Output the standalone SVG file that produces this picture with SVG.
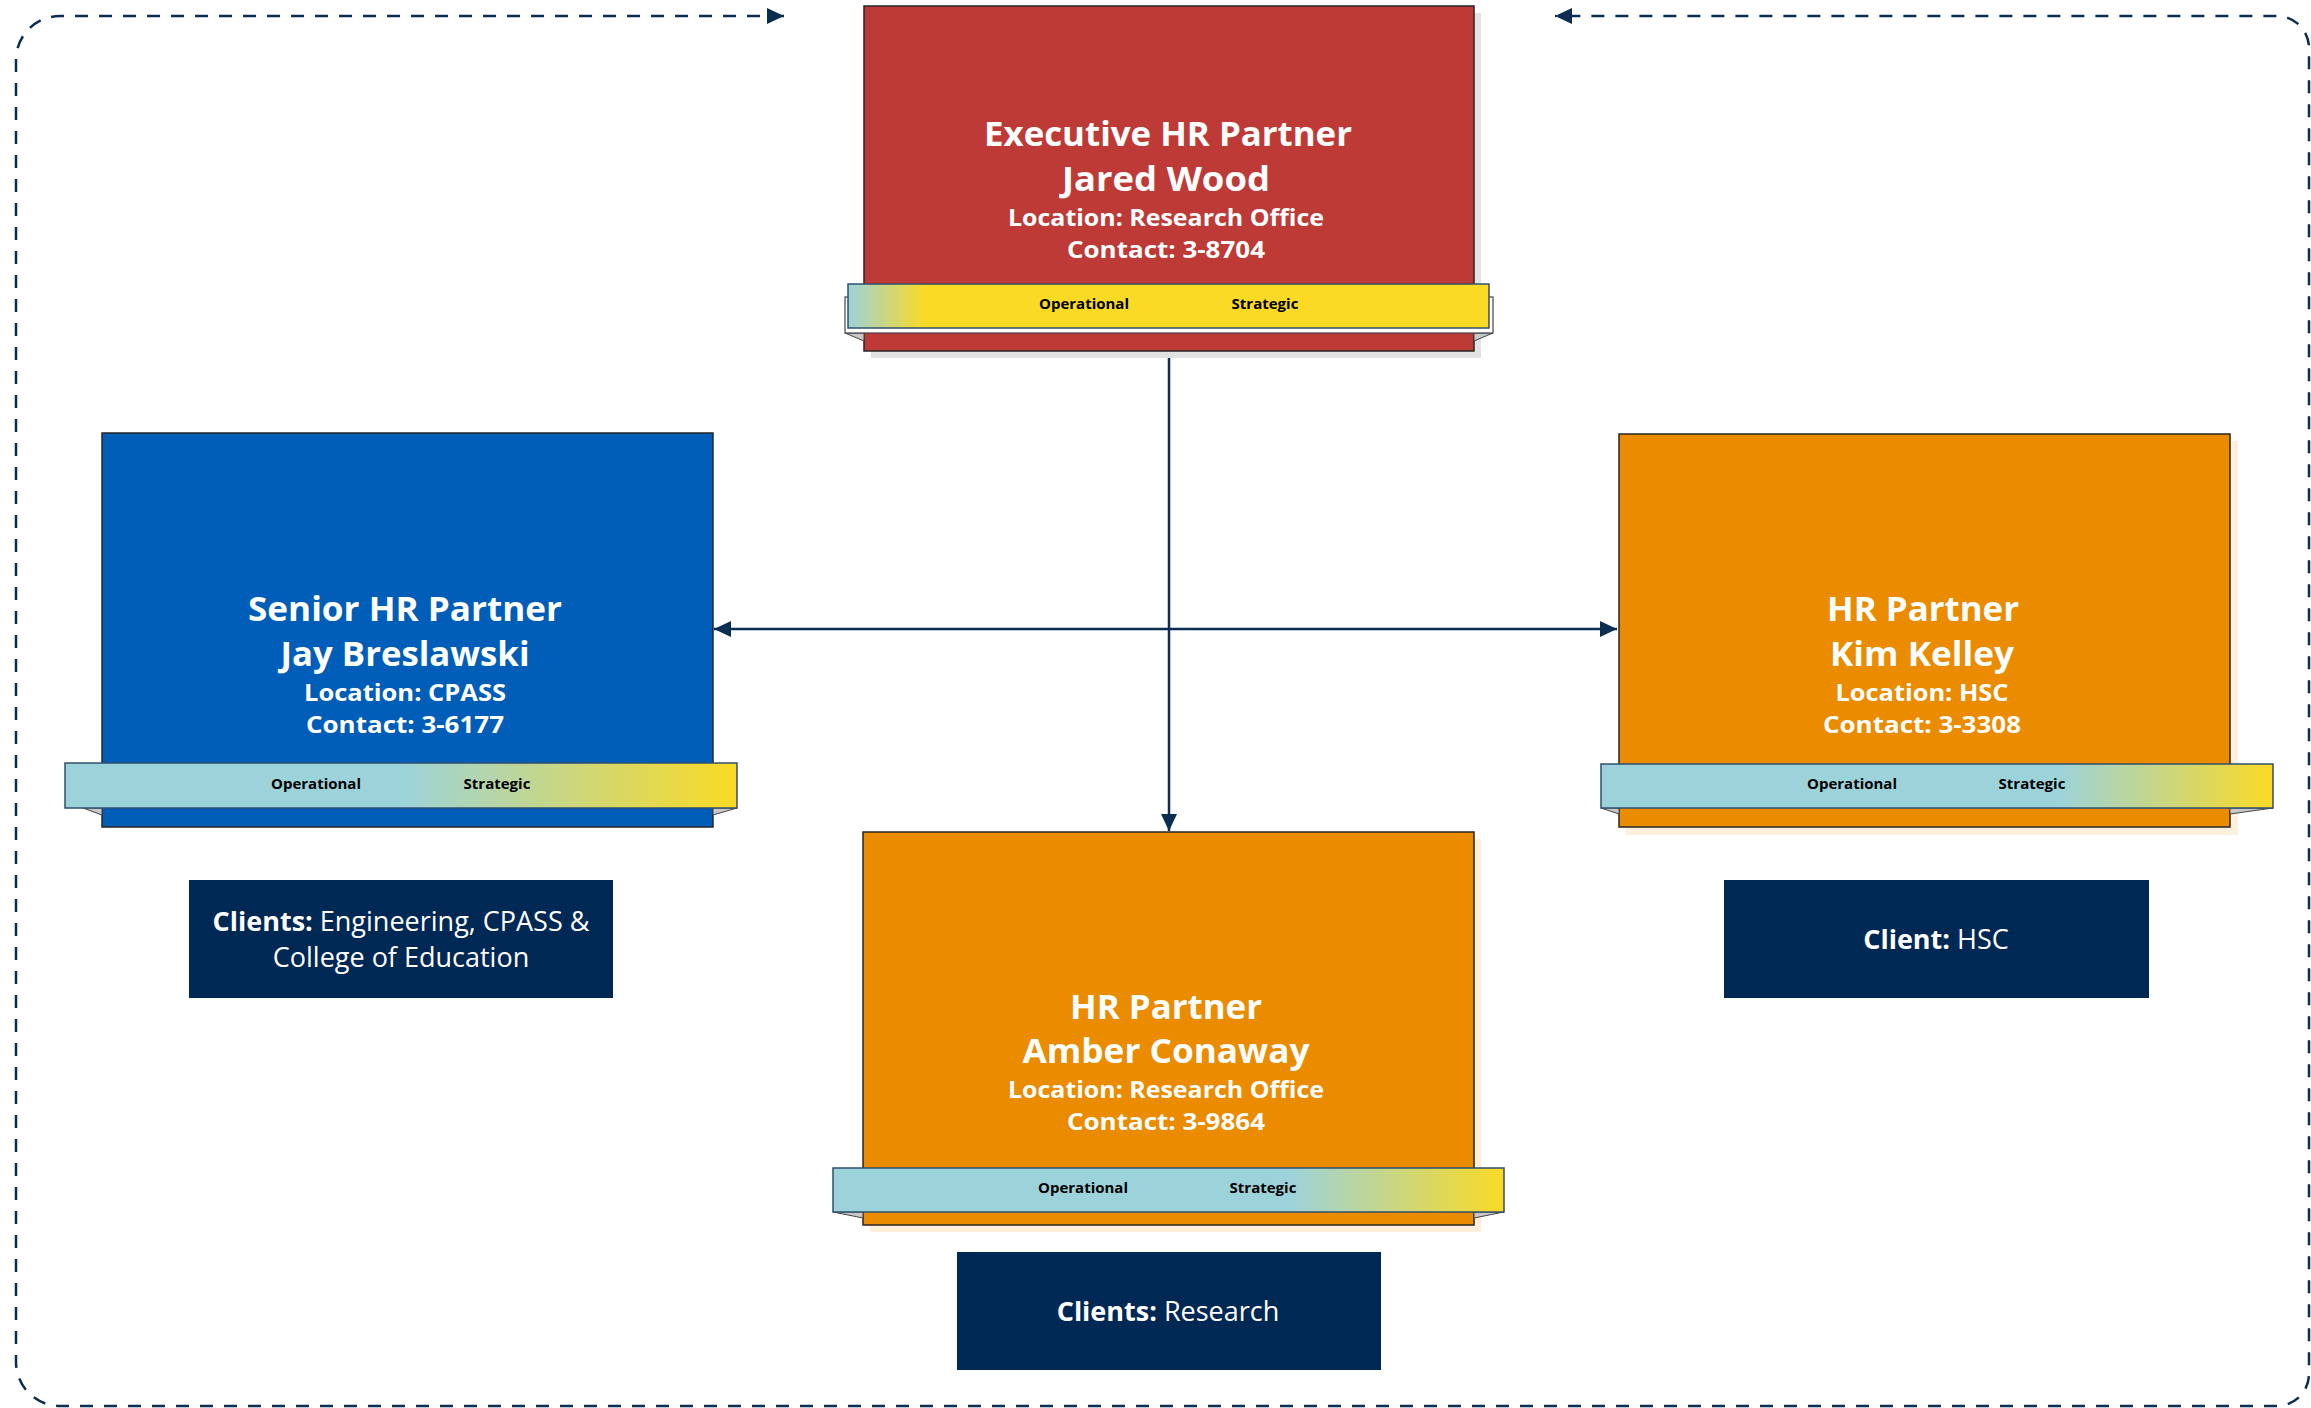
<svg xmlns="http://www.w3.org/2000/svg" width="2311" height="1408" viewBox="0 0 2311 1408">
<defs>
<style>
.box{stroke:#262626;stroke-width:1.5}
.red{fill:#BE3A36}.blue{fill:#005EB8}.orange{fill:#EA8B00}
.shadow-g{fill:#e2e2e2}.shadow-o{fill:#fcefdc}
.t1{font-family:"Open Sans","Liberation Sans",sans-serif;font-weight:700;font-size:34px;fill:#fff;text-anchor:middle}
.t2{font-family:"Open Sans","Liberation Sans",sans-serif;font-weight:700;font-size:24px;fill:#fff;text-anchor:middle}
.bl{font-family:"Open Sans","Liberation Sans",sans-serif;font-weight:700;font-size:15px;fill:#000;text-anchor:middle}
.band{stroke:#2F4F6F;stroke-width:1.5}
.fold{fill:#c8c8c8;stroke:#444;stroke-width:1}
.client{fill:#002855}
.ct{font-family:"Open Sans","Liberation Sans",sans-serif;font-size:27px;fill:#fff;text-anchor:middle}
.b{font-weight:700}
.conn{fill:none;stroke:#0B2D52;stroke-width:2.5}
.dash{fill:none;stroke:#0B2D52;stroke-width:2.5;stroke-dasharray:13 11}
</style>
<marker id="arr" markerUnits="userSpaceOnUse" markerWidth="17" markerHeight="16" refX="17" refY="8" orient="auto-start-reverse">
<path d="M0,0 L17,8 L0,16 z" fill="#0B2D52"/>
</marker>
<linearGradient id="gRed" x1="0" y1="0" x2="1" y2="0">
<stop offset="0" stop-color="#9CD3DB"/><stop offset="0.12" stop-color="#FADA24"/><stop offset="1" stop-color="#FADA24"/>
</linearGradient>
<linearGradient id="gBlue" x1="0" y1="0" x2="1" y2="0">
<stop offset="0" stop-color="#9CD3DB"/><stop offset="0.5" stop-color="#9CD3DB"/><stop offset="1" stop-color="#FADA24"/>
</linearGradient>
<linearGradient id="gOr" x1="0" y1="0" x2="1" y2="0">
<stop offset="0" stop-color="#9CD3DB"/><stop offset="0.68" stop-color="#9CD3DB"/><stop offset="1" stop-color="#FADA24"/>
</linearGradient>
</defs>
<rect width="2311" height="1408" fill="#fff"/>

<g id="connectors">
<path class="dash" d="M784 16 H60 A44 44 0 0 0 16 60 V1362 A44 44 0 0 0 60 1406 H2277 A32 32 0 0 0 2309 1374 V48 A32 32 0 0 0 2277 16 H1555" marker-start="url(#arr)" marker-end="url(#arr)"/>
<path class="conn" d="M1169 351 V831" marker-end="url(#arr)"/>
<path class="conn" d="M714 629 H1617" marker-start="url(#arr)" marker-end="url(#arr)"/>
</g>

<g id="node-exec">
<rect class="shadow-g" x="871" y="13" width="610" height="345"/>
<rect class="box red" x="864" y="6" width="610" height="345"/>
<polygon class="fold" points="845,333 864,333 864,341"/>
<polygon class="fold" points="1493,333 1474,333 1474,341"/>
<rect x="845" y="297" width="648" height="36" fill="#fff" stroke="#444" stroke-width="1.2"/>
<rect class="band" x="848" y="284" width="641" height="44" fill="url(#gRed)"/>
<text class="t1" x="1168" y="146" textLength="368" lengthAdjust="spacingAndGlyphs">Executive HR Partner</text>
<text class="t1" x="1166" y="191" textLength="208" lengthAdjust="spacingAndGlyphs">Jared Wood</text>
<text class="t2" x="1166" y="226" textLength="316" lengthAdjust="spacingAndGlyphs">Location: Research Office</text>
<text class="t2" x="1166" y="258" textLength="198" lengthAdjust="spacingAndGlyphs">Contact: 3-8704</text>
<text class="bl" x="1084" y="309">Operational</text>
<text class="bl" x="1265" y="309">Strategic</text>
</g>

<g id="node-senior">
<rect class="box blue" x="102" y="433" width="611" height="394"/>
<polygon class="fold" points="83,808 102,808 102,815"/>
<polygon class="fold" points="737,808 713,808 713,815"/>
<rect class="band" x="65" y="763" width="672" height="45" fill="url(#gBlue)"/>
<text class="t1" x="405" y="621" textLength="314" lengthAdjust="spacingAndGlyphs">Senior HR Partner</text>
<text class="t1" x="405" y="666" textLength="249" lengthAdjust="spacingAndGlyphs">Jay Breslawski</text>
<text class="t2" x="405" y="701" textLength="202" lengthAdjust="spacingAndGlyphs">Location: CPASS</text>
<text class="t2" x="405" y="733" textLength="198" lengthAdjust="spacingAndGlyphs">Contact: 3-6177</text>
<text class="bl" x="316" y="789">Operational</text>
<text class="bl" x="497" y="789">Strategic</text>
</g>

<g id="node-kim">
<rect class="shadow-o" x="1626" y="441" width="612" height="394"/>
<rect class="box orange" x="1619" y="434" width="611" height="393"/>
<polygon class="fold" points="1601,808 1619,808 1619,814"/>
<polygon class="fold" points="2273,808 2230,808 2230,814"/>
<rect class="band" x="1601" y="764" width="672" height="44" fill="url(#gOr)"/>
<text class="t1" x="1923" y="621" textLength="192" lengthAdjust="spacingAndGlyphs">HR Partner</text>
<text class="t1" x="1922" y="666" textLength="184" lengthAdjust="spacingAndGlyphs">Kim Kelley</text>
<text class="t2" x="1922" y="701" textLength="173" lengthAdjust="spacingAndGlyphs">Location: HSC</text>
<text class="t2" x="1922" y="733" textLength="198" lengthAdjust="spacingAndGlyphs">Contact: 3-3308</text>
<text class="bl" x="1852" y="789">Operational</text>
<text class="bl" x="2032" y="789">Strategic</text>
</g>

<g id="node-amber">
<rect class="shadow-o" x="870" y="839" width="611" height="393"/>
<rect class="box orange" x="863" y="832" width="611" height="393"/>
<polygon class="fold" points="833,1212 863,1212 863,1218"/>
<polygon class="fold" points="1504,1212 1474,1212 1474,1218"/>
<rect class="band" x="833" y="1168" width="671" height="44" fill="url(#gOr)"/>
<text class="t1" x="1166" y="1019" textLength="192" lengthAdjust="spacingAndGlyphs">HR Partner</text>
<text class="t1" x="1166" y="1063" textLength="287" lengthAdjust="spacingAndGlyphs">Amber Conaway</text>
<text class="t2" x="1166" y="1098" textLength="316" lengthAdjust="spacingAndGlyphs">Location: Research Office</text>
<text class="t2" x="1166" y="1130" textLength="198" lengthAdjust="spacingAndGlyphs">Contact: 3-9864</text>
<text class="bl" x="1083" y="1193">Operational</text>
<text class="bl" x="1263" y="1193">Strategic</text>
</g>

<g id="client-senior">
<rect class="client" x="189" y="880" width="424" height="118"/>
<text class="ct" x="401" y="931"><tspan class="b">Clients:</tspan> Engineering, CPASS &amp;</text>
<text class="ct" x="401" y="967">College of Education</text>
</g>

<g id="client-kim">
<rect class="client" x="1724" y="880" width="425" height="118"/>
<text class="ct" x="1936" y="949"><tspan class="b">Client:</tspan> HSC</text>
</g>

<g id="client-amber">
<rect class="client" x="957" y="1252" width="424" height="118"/>
<text class="ct" x="1168" y="1321"><tspan class="b">Clients:</tspan> Research</text>
</g>
</svg>
